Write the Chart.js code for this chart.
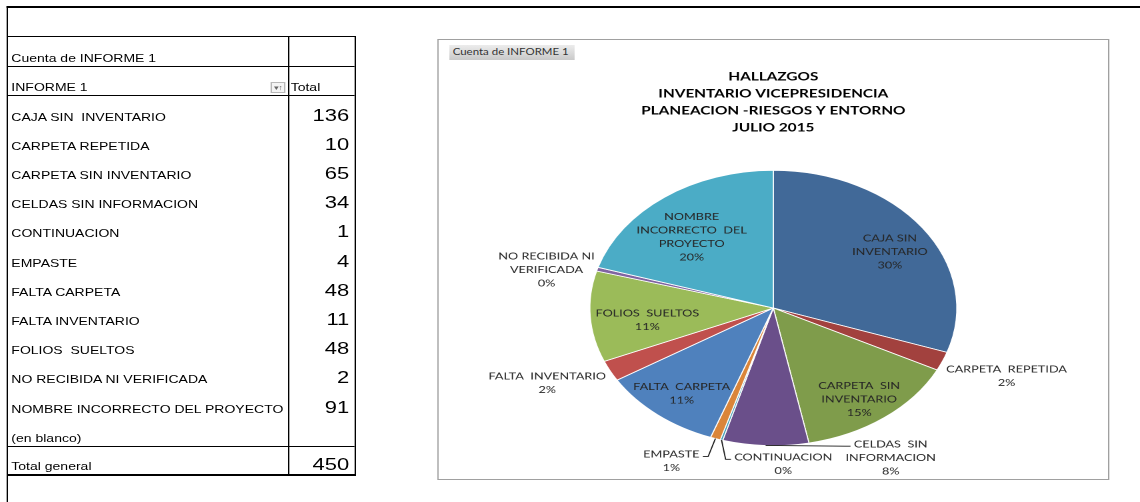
<!DOCTYPE html>
<html>
<head>
<meta charset="utf-8">
<script src="https://cdn.jsdelivr.net/npm/chart.js@4/dist/chart.umd.min.js"></script>
<style>
  html, body { margin: 0; padding: 0; background: #fff; overflow: hidden; }
  /* the reference is a sheet stretched sideways, so the whole page is drawn narrow then widened */
  #page { position: relative; width: 855px; height: 502px; transform: scaleX(1.33333); transform-origin: 0 0; }
  #frameTop { position: absolute; left: 4.5px; top: 6px; right: 0; height: 2px; background: #000; }
  #frameLeft { position: absolute; left: 4.5px; top: 6px; width: 1.5px; bottom: 0; background: #000; }
  #pivot { position: absolute; left: 6px; top: 36px; width: 260px; border-top: 1px solid #000; border-right: 1.5px solid #000; border-bottom: 2px solid #000; font-family: "Liberation Sans", Arial, sans-serif; color: #000; }
  .row { display: flex; box-sizing: border-box; }
  .row.line { border-bottom: 1px solid #000; }
  .row.topline { border-top: 1px solid #000; }
  .c1 { width: 210.5px; border-right: 1px solid #000; position: relative; box-sizing: border-box; font-size: 10.5px; line-height: 1; display: flex; align-items: flex-end; padding: 0 0 3px 2.5px; white-space: pre; }
  .c2 { flex: 1; font-size: 16.5px; line-height: 1; display: flex; align-items: flex-end; justify-content: flex-end; padding: 0 4px 2px 0; }
  .c2.small { font-size: 10.5px; justify-content: flex-start; padding-left: 1.5px; padding-bottom: 3px; }
  .filter { position: absolute; right: 1.5px; bottom: 2px; width: 11px; height: 11px; border: 1px solid #b8b8b8; background: #f4f4f4; font-size: 7px; line-height: 10px; color: #666; text-align: center; box-sizing: border-box; white-space: nowrap; letter-spacing: -1px; }
  #chartBox { position: absolute; left: 327.5px; top: 39px; width: 504px; height: 441px; border: 1px solid #a0a0a0; box-sizing: border-box; }
  #chartBox canvas { position: absolute; left: 0; top: 0; }
  #fieldBtn { position: absolute; left: 8px; top: 5px; width: 94px; height: 15px; background: linear-gradient(#ececec, #c9c9c9); font-family: Lato, sans-serif; font-size: 8.6px; line-height: 15px; color: #333; padding-left: 3px; box-sizing: border-box; white-space: nowrap; }
</style>
</head>
<body>
<div id="page">
  <div id="frameTop"></div>
  <div id="frameLeft"></div>
  <div id="pivot"></div>
  <div id="chartBox">
    <canvas id="pie" width="502" height="439"></canvas>
    <div id="fieldBtn">Cuenta de INFORME 1</div>
  </div>
</div>
<script>
const categories = [
  'CAJA SIN  INVENTARIO',
  'CARPETA REPETIDA',
  'CARPETA SIN INVENTARIO',
  'CELDAS SIN INFORMACION',
  'CONTINUACION',
  'EMPASTE',
  'FALTA CARPETA',
  'FALTA INVENTARIO',
  'FOLIOS  SUELTOS',
  'NO RECIBIDA NI VERIFICADA',
  'NOMBRE INCORRECTO DEL PROYECTO',
]
const counts = [136, 10, 65, 34, 1, 4, 48, 11, 48, 2, 91]
const grandTotal = 450

// text of each slice label as printed on the chart
const pieLabels = [
  ['CAJA SIN', 'INVENTARIO', '30%'],
  ['CARPETA  REPETIDA', '2%'],
  ['CARPETA  SIN', 'INVENTARIO', '15%'],
  ['CELDAS  SIN', 'INFORMACION', '8%'],
  ['CONTINUACION', '0%'],
  ['EMPASTE', '1%'],
  ['FALTA  CARPETA', '11%'],
  ['FALTA  INVENTARIO', '2%'],
  ['FOLIOS  SUELTOS', '11%'],
  ['NO RECIBIDA NI', 'VERIFICADA', '0%'],
  ['NOMBRE', 'INCORRECTO  DEL', 'PROYECTO', '20%'],
]
const titleLines = ['HALLAZGOS', 'INVENTARIO VICEPRESIDENCIA', 'PLANEACION -RIESGOS Y ENTORNO', 'JULIO 2015']

const sliceColors = ['#416998', '#A2413E', '#7F9C4B', '#6A4F8A', '#3E9BB3', '#DA8539', '#4F81BD', '#C0504D', '#9BBB59', '#8064A2', '#4BACC6']

// pivot table
function buildPivot() {
	const pivot = document.getElementById('pivot')
	const addRow = (cls, h, left, right, rightCls) => {
		const row = document.createElement('div')
		row.className = 'row ' + cls
		row.style.height = h + 'px'
		const a = document.createElement('div')
		a.className = 'c1'
		a.textContent = left
		const b = document.createElement('div')
		b.className = 'c2 ' + (rightCls || '')
		b.textContent = right
		row.appendChild(a)
		row.appendChild(b)
		pivot.appendChild(row)
		return a
	}
	addRow('line', 30, 'Cuenta de INFORME 1', '')
	const head = addRow('line', 29, 'INFORME 1', 'Total', 'small')
	const flt = document.createElement('span')
	flt.className = 'filter'
	flt.textContent = '▾↑'
	head.appendChild(flt)
	categories.map((name, i) => addRow('', 29.2, name, String(counts[i])))
	addRow('', 29.2, '(en blanco)', '')
	addRow('topline', 28, 'Total general', String(grandTotal))
}
buildPivot()

// slice label layout: inside / outside, nudge from the default anchor, leader line
const labelSide = ['in', 'out', 'in', 'out', 'out', 'out', 'in', 'out', 'in', 'out', 'in']
const labelNudge = [[3.5, 4], [10, -1], [2, 9], [95.5, -29], [58, -15.5], [-20, -16.5], [-3.5, 5.5], [-10.5, -6.5], [8.5, 5.5], [1.5, 12.5], [0, 12.5]]
const labelLeader = [false, false, false, true, true, true, false, false, false, false, false]

const sliceLabelPlugin = {
	id: 'sliceLabels',
	afterDatasetsDraw(chart) {
		const ctx = chart.ctx
		const meta = chart.getDatasetMeta(0)
		const lh = 13.5
		ctx.save()
		ctx.font = '9.5px Lato'
		ctx.fillStyle = '#262626'
		ctx.strokeStyle = '#1a1a1a'
		ctx.lineWidth = 0.9
		ctx.textAlign = 'center'
		ctx.textBaseline = 'middle'
		meta.data.forEach((arc, i) => {
			const p = arc.getProps(['x', 'y', 'startAngle', 'endAngle', 'outerRadius'], true)
			const mid = (p.startAngle + p.endAngle) / 2
			const f = labelSide[i] === 'out' ? 1.3 : 0.75
			const lx = p.x + Math.cos(mid) * p.outerRadius * f + labelNudge[i][0]
			const ly = p.y + Math.sin(mid) * p.outerRadius * f + labelNudge[i][1]
			const lines = pieLabels[i]
			const top = ly - (lines.length - 1) * lh / 2
			lines.forEach((t, k) => ctx.fillText(t, lx, top + k * lh))
			if (labelLeader[i]) {
				const ex = p.x + Math.cos(mid) * p.outerRadius
				const ey = p.y + Math.sin(mid) * p.outerRadius
				const w = ctx.measureText(lines[0]).width
				const toRight = lx > ex
				const endX = toRight ? lx - w / 2 - 2.5 : lx + w / 2 + 2.5
				const elbowX = toRight ? endX - 4 : endX + 4
				const endY = top + 2
				ctx.beginPath()
				ctx.moveTo(ex, ey)
				ctx.lineTo(elbowX, endY)
				ctx.lineTo(endX, endY)
				ctx.stroke()
			}
		})
		ctx.restore()
	},
}

new Chart(document.getElementById('pie').getContext('2d'), {
	type: 'pie',
	data: {
		labels: categories,
		datasets: [{
			data: counts,
			backgroundColor: sliceColors,
			borderColor: '#ffffff',
			borderWidth: 0.8,
		}],
	},
	options: {
		responsive: false,
		animation: false,
		devicePixelRatio: 2,
		layout: { padding: { top: 0, bottom: 33, left: 0, right: 0 } },
		plugins: {
			legend: { display: false },
			tooltip: { enabled: false },
			title: {
				display: true,
				text: titleLines,
				color: '#000',
				font: { family: 'Lato', size: 11.5, weight: 'bold', lineHeight: '17px' },
				padding: { top: 28.5, bottom: 33.5 },
			},
		},
	},
	plugins: [sliceLabelPlugin],
})
</script>
</body>
</html>
